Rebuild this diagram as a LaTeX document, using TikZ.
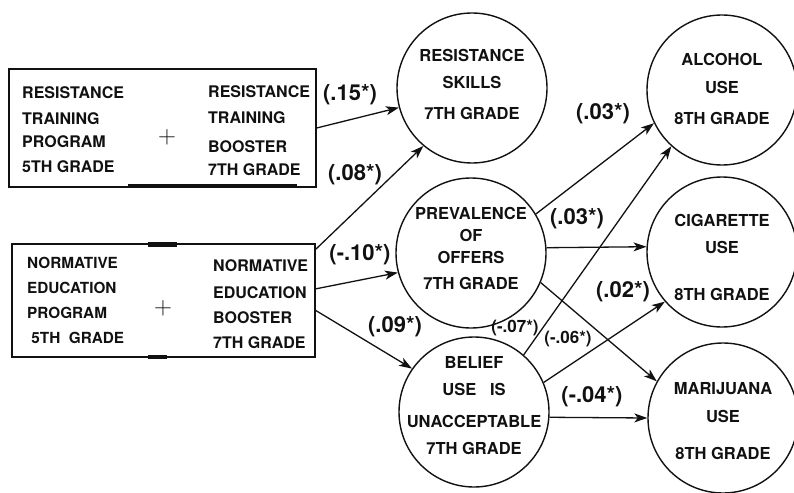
\documentclass[tikz,border=0pt]{standalone}
\usepackage{fontspec}
\setmainfont{TeX Gyre Heros}
\usetikzlibrary{arrows.meta}
\definecolor{ink}{HTML}{111111}

\tikzset{
  program/.style={draw=ink,line width=1.4pt,inner sep=0pt},
  progtext/.style={anchor=west,align=left,inner sep=0pt,font=\fontsize{16}{25}\selectfont\bfseries},
  joinsign/.style={inner sep=0pt,font=\fontsize{32}{34}\selectfont},
  stage/.style={circle,draw=ink,line width=1.4pt,minimum size=150pt,inner sep=0pt},
  stagetext/.style={align=center,inner sep=0pt,font=\fontsize{16.5}{27}\selectfont\bfseries},
  coef/.style={inner sep=0pt,font=\fontsize{22}{24}\selectfont\bfseries},
  smallcoef/.style={inner sep=0pt,font=\fontsize{17}{19}\selectfont\bfseries},
  effect/.style={draw=ink,line width=1.3pt,-{Stealth[length=13pt,width=9pt,inset=3.5pt]}}
}

\begin{document}
\begin{tikzpicture}[x=1pt,y=-1pt,every node/.style={text=ink}]
\useasboundingbox (0,0) rectangle (794,492);
% resistance training program + booster
\node[program,minimum width=307pt,minimum height=118pt] (rtp) at (162.5,128) {};
\node[progtext] (rtp-l) at (22,130) {RESISTANCE\\[1pt]TRAINING\\[-2pt]PROGRAM\\5TH GRADE};
\node[joinsign] (rtp-p) at (167,137) {$+$};
\node[progtext] (rtp-r) at (208,131) {RESISTANCE\\[1pt]TRAINING\\[4pt]BOOSTER\\[-2pt]7TH GRADE};
\draw[ink,line width=4pt] (128,186) -- (297,186);
% normative education program + booster
\node[program,minimum width=303pt,minimum height=113pt] (netp) at (163.5,300.5) {};
\node[progtext,font=\fontsize{15.3}{25}\selectfont\bfseries] (netp-l) at (27,300.5) {NORMATIVE\\EDUCATION\\PROGRAM\\\ 5TH\ \ GRADE};
\node[joinsign] (netp-p) at (163,308) {$+$};
\node[progtext] (netp-r) at (213,304.5) {NORMATIVE\\[2pt]EDUCATION\\BOOSTER\\7TH GRADE};
\draw[ink,line width=5pt] (148,244) -- (177,244);
\draw[ink,line width=3.5pt] (148,357) -- (167,357);
\coordinate (netp-a) at (315,250);
\coordinate (netp-b) at (315,289);
\coordinate (netp-c) at (315,310);
% mediators, 7th grade
\node[stage] (skills) at (472,88) {};
\node[stagetext] (skills-t) at (472,84) {RESISTANCE\\SKILLS\\[4pt]7TH GRADE};
\node[stage] (prev) at (471,253) {};
\node[stagetext] (prev-t) at (471,248) {PREVALENCE\\[-5pt]OF\\[-5pt]OFFERS\\[-1pt]7TH GRADE};
\node[stage] (belief) at (474,412) {};
\node[stagetext] (belief-t) at (474,406) {BELIEF\\USE\ \ \ IS\\[5pt]UNACCEPTABLE\\7TH GRADE};
% outcomes, 8th grade
\node[stage] (alc) at (722,90) {};
\node[stagetext] (alc-t) at (722,88.5) {ALCOHOL\\[1pt]USE\\[4pt]8TH GRADE};
\node[stage] (cig) at (722,252) {};
\node[stagetext] (cig-t) at (722,257) {CIGARETTE\\USE\\[20pt]8TH GRADE};
\node[stage] (mar) at (723,418) {};
\node[stagetext] (mar-t) at (723,421) {MARIJUANA\\[1pt]USE\\[10pt]8TH GRADE};
% programs -> mediators
\draw[effect] (rtp.east) -- (skills.195);
\draw[effect] (netp-a) -- (skills.230);
\draw[effect] (netp-b) -- (prev.195);
\draw[effect] (netp-c) -- (belief.145);
% mediators -> outcomes
\draw[effect] (prev.31) -- (alc.206);
\draw[effect] (prev.4) -- (cig.176);
\draw[effect] (prev.-23) -- (mar.151);
\draw[effect] (belief.49) -- (alc.228);
\draw[effect] (belief.23) -- (cig.221);
\draw[effect] (belief.-4) -- (mar.180);
% path coefficients
\node[coef] (c-rs) at (350,95) {(.15*)};
\node[coef] (c-ns) at (355,175) {(.08*)};
\node[coef] (c-np) at (360,255) {(-.10*)};
\node[coef] (c-nb) at (395,327) {(.09*)};
\node[coef] (c-pa) at (603,114) {(.03*)};
\node[coef] (c-pc) at (577,219) {(.03*)};
\node[coef] (c-bc) at (623,292) {(.02*)};
\node[coef] (c-bm) at (592,397) {(-.04*)};
\node[smallcoef] (c-ba) at (515,328) {(-.07*)};
\node[smallcoef] (c-pm) at (568,339) {(-.06*)};
\end{tikzpicture}
\end{document}
